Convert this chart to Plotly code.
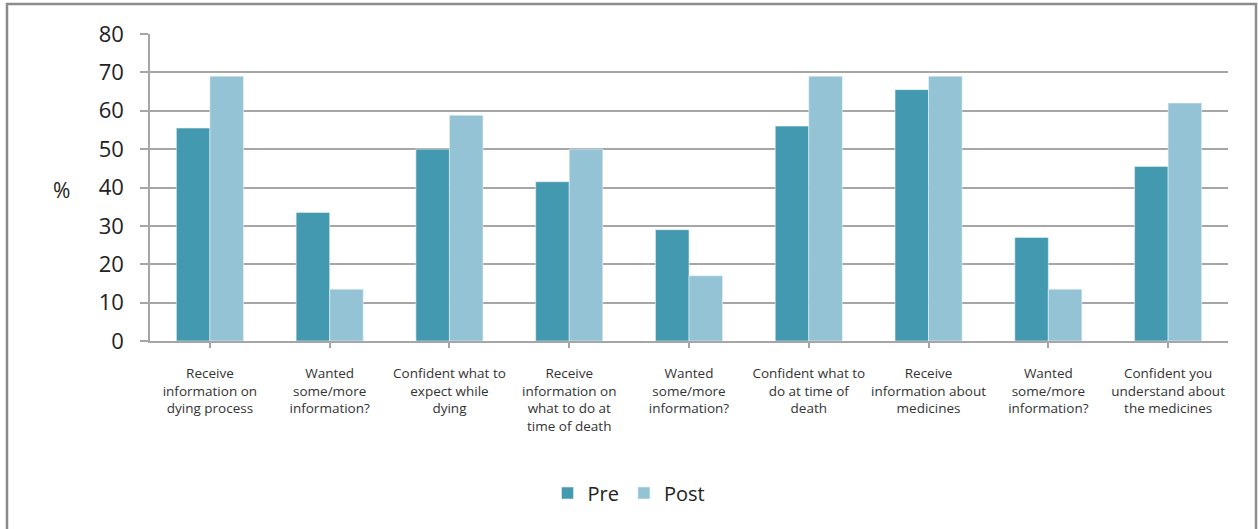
import plotly.graph_objects as go

categories = [
    "Receive<br>information on<br>dying process",
    "Wanted<br>some/more<br>information?",
    "Confident what to<br>expect while<br>dying",
    "Receive<br>information on<br>what to do at<br>time of death",
    "Wanted<br>some/more<br>information?",
    "Confident what to<br>do at time of<br>death",
    "Receive<br>information about<br>medicines",
    "Wanted<br>some/more<br>information?",
    "Confident you<br>understand about<br>the medicines",
]
pre_values = [55.5, 33.5, 50.0, 41.5, 29.0, 56.0, 65.5, 27.0, 45.5]
post_values = [69.0, 13.5, 58.8, 50.0, 17.0, 69.0, 69.0, 13.5, 62.0]
y_ticks = [0, 10, 20, 30, 40, 50, 60, 70, 80]

PRE_COLOR = "#4399b0"
POST_COLOR = "#93c3d5"
GRID = "#a6a6a6"
FONT = "Open Sans"

x_idx = list(range(len(categories)))

fig = go.Figure()
fig.add_trace(go.Bar(name="Pre", x=x_idx, y=pre_values,
                     marker=dict(color=PRE_COLOR, line=dict(color="#e8f2f5", width=0.6))))
fig.add_trace(go.Bar(name="Post", x=x_idx, y=post_values,
                     marker=dict(color=POST_COLOR, line=dict(color="#e8f2f5", width=0.6))))

fig.update_layout(
    width=1258, height=529,
    margin=dict(l=150, r=30, t=34, b=188),
    paper_bgcolor="white", plot_bgcolor="white",
    barmode="group", bargap=0.44, bargroupgap=0,
    font=dict(family=FONT, color="#222222"),
    showlegend=True,
    legend=dict(orientation="h", xref="container", yref="container",
                x=0.5, xanchor="center", y=0.068, yanchor="middle",
                font=dict(size=20, family=FONT, color="#222222"),
                itemwidth=30, traceorder="normal"),
    xaxis=dict(
        tickmode="array", tickvals=x_idx, ticktext=categories,
        range=[-0.5, len(categories) - 0.5],
        tickfont=dict(size=13.5, family=FONT, color="#333333"),
        tickangle=0, automargin=False,
        showline=True, linecolor=GRID, linewidth=1.5,
        ticks="outside", ticklen=5, tickcolor=GRID, tickwidth=1.5,
        tickson="boundaries", showgrid=False, fixedrange=True,
        ticklabelstandoff=14,
    ),
    yaxis=dict(
        range=[0, 80], tickvals=y_ticks,
        tickfont=dict(size=22, family=FONT, color="#222222"),
        showgrid=True, gridcolor=GRID, gridwidth=1.5,
        showline=True, linecolor=GRID, linewidth=1.5,
        ticks="outside", ticklen=8, tickcolor=GRID, tickwidth=1.5,
        zeroline=False, fixedrange=True, automargin=False,
        ticklabelstandoff=12,
    ),
)

# "%" axis label
fig.add_annotation(text="%", xref="paper", yref="paper",
                   x=(61 - 150) / 1078, y=(341 - 190) / 307,
                   xanchor="center", yanchor="middle", showarrow=False,
                   font=dict(size=21, family=FONT, color="#222222"))

# outer chart frame
fig.add_shape(type="rect", xref="paper", yref="paper",
              x0=(7 - 150) / 1078, x1=(1256 - 150) / 1078,
              y0=(341 - 540) / 307, y1=(341 - 4) / 307,
              line=dict(color="#8c8c8c", width=2.5), fillcolor="rgba(0,0,0,0)",
              layer="above")

fig.write_html("out.html")
